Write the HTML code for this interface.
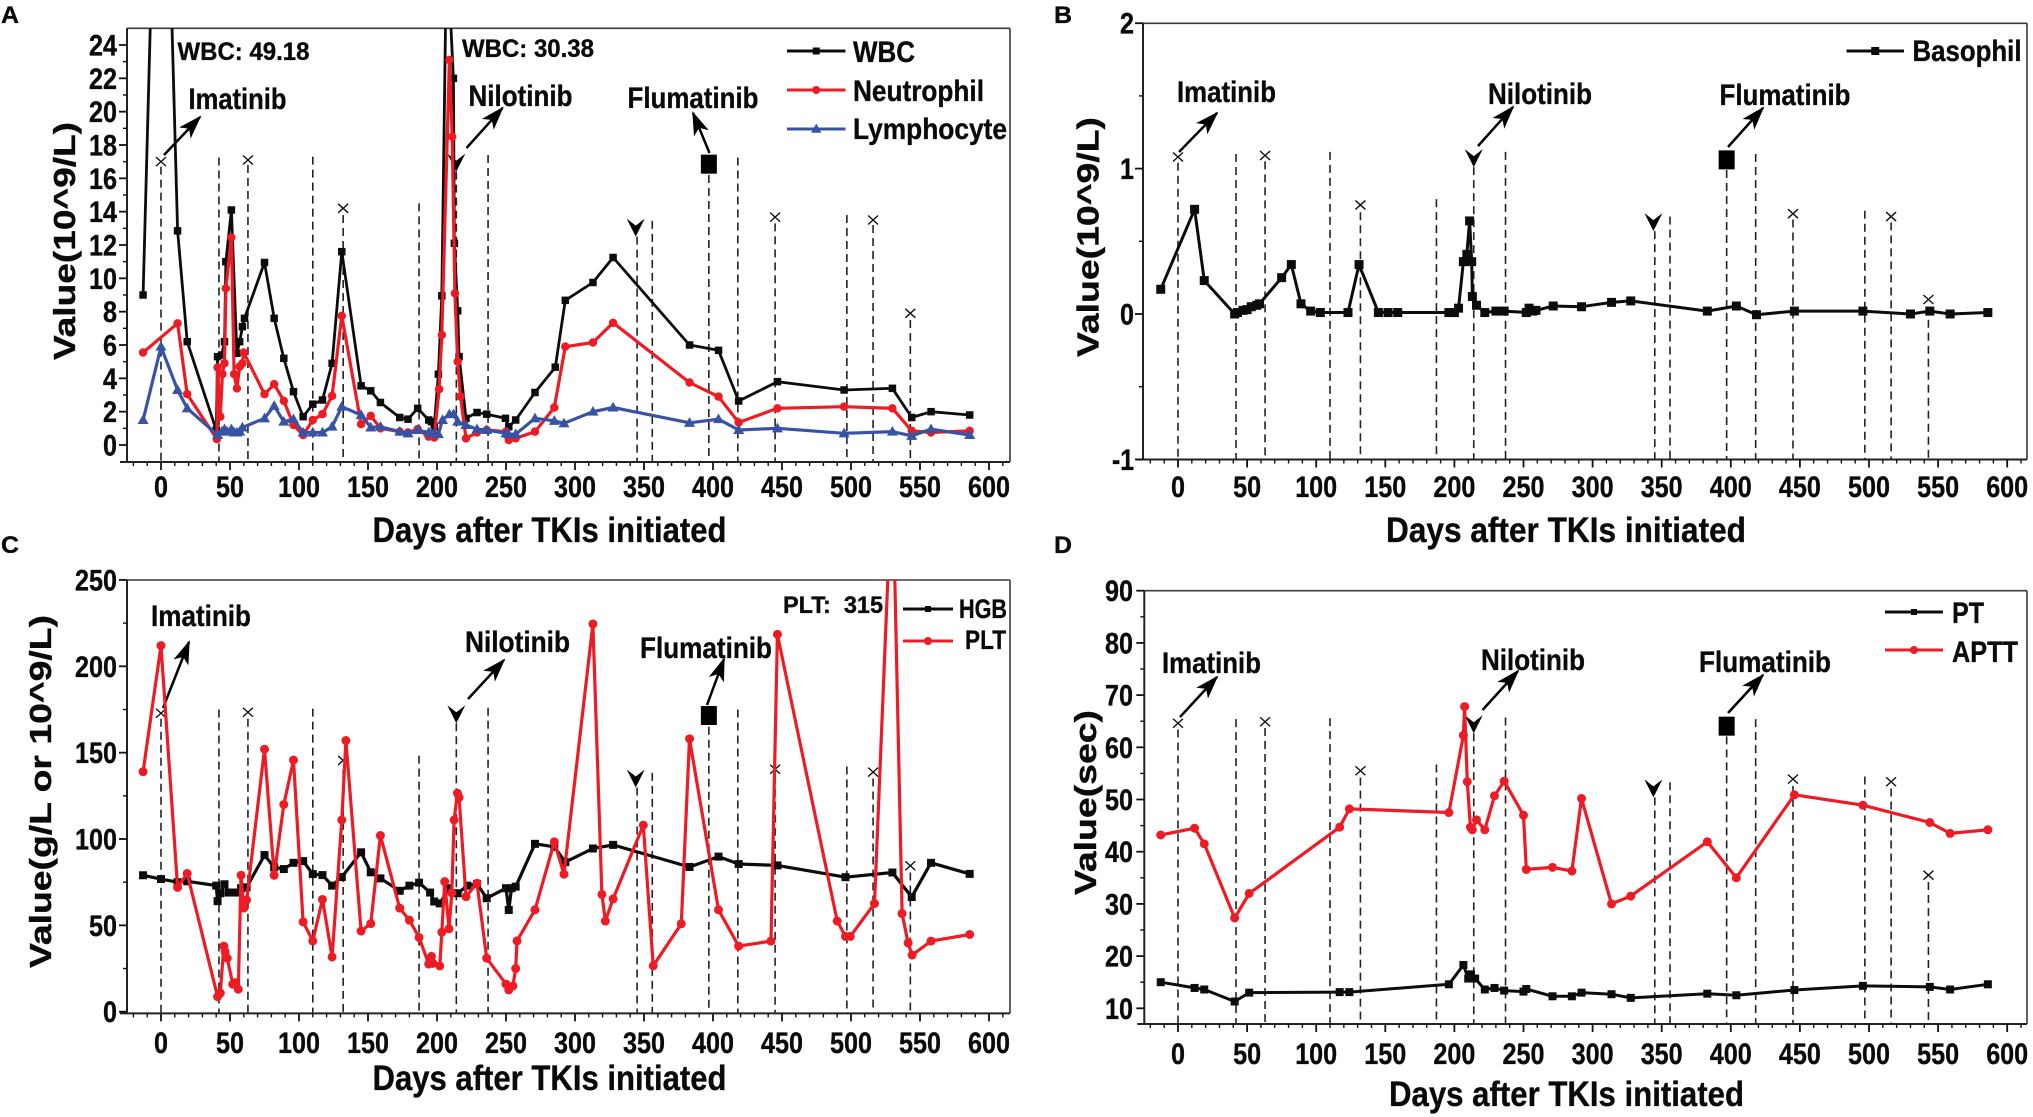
<!DOCTYPE html>
<html lang="en">
<head>
<meta charset="utf-8">
<title>Blood counts after TKI treatment</title>
<style>
html,body{margin:0;padding:0;background:#fff;}
svg{display:block;}
text{font-family:"Liberation Sans",sans-serif;font-weight:bold;fill:#0a0a0a;stroke:#0a0a0a;stroke-width:0.35px;}
</style>
</head>
<body>
<svg id="figure" xmlns="http://www.w3.org/2000/svg" width="2033" height="1117" viewBox="0 0 2033 1117">
<defs>
<marker id="head" markerUnits="userSpaceOnUse" markerWidth="30" markerHeight="20" refX="22" refY="8" orient="auto"><path d="M0,0 L24,8 L0,16 L6,8Z" fill="#000"/></marker>
<clipPath id="clip-a"><rect x="127" y="28" width="883" height="434"/></clipPath>
<clipPath id="clip-b"><rect x="1143" y="23" width="884" height="437"/></clipPath>
<clipPath id="clip-c"><rect x="127" y="580" width="883" height="434"/></clipPath>
<clipPath id="clip-d"><rect x="1144" y="591" width="883" height="433"/></clipPath>
</defs>

<g id="panel-a">
<text x="1" y="23" font-size="24" textLength="18" lengthAdjust="spacingAndGlyphs">A</text>
<text transform="translate(75,360) rotate(-90)" font-size="31" textLength="238" lengthAdjust="spacingAndGlyphs">Value(10^9/L)</text>
<text x="372.5" y="542" font-size="35" textLength="354" lengthAdjust="spacingAndGlyphs">Days after TKIs initiated</text>
<text x="177.5" y="60" font-size="25" textLength="132" lengthAdjust="spacingAndGlyphs">WBC: 49.18</text>
<text x="462" y="57" font-size="25" textLength="132" lengthAdjust="spacingAndGlyphs">WBC: 30.38</text>
<text x="188.5" y="109" font-size="30" textLength="98" lengthAdjust="spacingAndGlyphs">Imatinib</text>
<text x="468.5" y="106" font-size="30" textLength="104" lengthAdjust="spacingAndGlyphs">Nilotinib</text>
<text x="627.5" y="108" font-size="30" textLength="131" lengthAdjust="spacingAndGlyphs">Flumatinib</text>
<line x1="164" y1="155" x2="200" y2="117" stroke="#000" stroke-width="2.5" marker-end="url(#head)"/>
<line x1="466.5" y1="148" x2="502.5" y2="108" stroke="#000" stroke-width="2.5" marker-end="url(#head)"/>
<line x1="709.5" y1="153" x2="693" y2="113" stroke="#000" stroke-width="2.5" marker-end="url(#head)"/>
<text x="853" y="62" font-size="30" textLength="62" lengthAdjust="spacingAndGlyphs">WBC</text>
<text x="853" y="101" font-size="30" textLength="131" lengthAdjust="spacingAndGlyphs">Neutrophil</text>
<text x="853" y="139" font-size="30" textLength="154" lengthAdjust="spacingAndGlyphs">Lymphocyte</text>
</g>

<g id="panel-b">
<text x="1054" y="23" font-size="24" textLength="18" lengthAdjust="spacingAndGlyphs">B</text>
<text transform="translate(1098.5,357) rotate(-90)" font-size="31" textLength="240" lengthAdjust="spacingAndGlyphs">Value(10^9/L)</text>
<text x="1386" y="542" font-size="35" textLength="360" lengthAdjust="spacingAndGlyphs">Days after TKIs initiated</text>
<text x="1177" y="102" font-size="30" textLength="99" lengthAdjust="spacingAndGlyphs">Imatinib</text>
<text x="1488" y="104" font-size="30" textLength="104" lengthAdjust="spacingAndGlyphs">Nilotinib</text>
<text x="1719.5" y="105" font-size="30" textLength="131" lengthAdjust="spacingAndGlyphs">Flumatinib</text>
<line x1="1179" y1="152" x2="1217" y2="113" stroke="#000" stroke-width="2.5" marker-end="url(#head)"/>
<line x1="1478" y1="146" x2="1513" y2="107" stroke="#000" stroke-width="2.5" marker-end="url(#head)"/>
<line x1="1728" y1="147" x2="1763" y2="108" stroke="#000" stroke-width="2.5" marker-end="url(#head)"/>
<text x="1912.5" y="61" font-size="30" textLength="109" lengthAdjust="spacingAndGlyphs">Basophil</text>
</g>

<g id="panel-c">
<text x="1" y="553" font-size="24" textLength="18" lengthAdjust="spacingAndGlyphs">C</text>
<text transform="translate(51,968) rotate(-90)" font-size="31" textLength="353" lengthAdjust="spacingAndGlyphs">Value(g/L or 10^9/L)</text>
<text x="372.5" y="1090" font-size="35" textLength="354" lengthAdjust="spacingAndGlyphs">Days after TKIs initiated</text>
<text x="783" y="613" font-size="24" textLength="100" lengthAdjust="spacingAndGlyphs">PLT:&#160;&#160;315</text>
<text x="151" y="626" font-size="30" textLength="100" lengthAdjust="spacingAndGlyphs">Imatinib</text>
<text x="465" y="652" font-size="30" textLength="105" lengthAdjust="spacingAndGlyphs">Nilotinib</text>
<text x="640" y="658" font-size="30" textLength="132" lengthAdjust="spacingAndGlyphs">Flumatinib</text>
<line x1="163" y1="708" x2="189" y2="642" stroke="#000" stroke-width="2.5" marker-end="url(#head)"/>
<line x1="468" y1="699" x2="504" y2="660" stroke="#000" stroke-width="2.5" marker-end="url(#head)"/>
<line x1="707" y1="705" x2="724" y2="659" stroke="#000" stroke-width="2.5" marker-end="url(#head)"/>
<text x="959" y="618" font-size="27" textLength="48" lengthAdjust="spacingAndGlyphs">HGB</text>
<text x="965" y="649" font-size="27" textLength="41" lengthAdjust="spacingAndGlyphs">PLT</text>
</g>

<g id="panel-d">
<text x="1054" y="553" font-size="24" textLength="18" lengthAdjust="spacingAndGlyphs">D</text>
<text transform="translate(1096,895) rotate(-90)" font-size="31" textLength="185" lengthAdjust="spacingAndGlyphs">Value(sec)</text>
<text x="1389" y="1106" font-size="35" textLength="355" lengthAdjust="spacingAndGlyphs">Days after TKIs initiated</text>
<text x="1162" y="673" font-size="30" textLength="99" lengthAdjust="spacingAndGlyphs">Imatinib</text>
<text x="1481" y="670" font-size="30" textLength="104" lengthAdjust="spacingAndGlyphs">Nilotinib</text>
<text x="1699" y="672" font-size="30" textLength="132" lengthAdjust="spacingAndGlyphs">Flumatinib</text>
<line x1="1180" y1="717" x2="1217" y2="677" stroke="#000" stroke-width="2.5" marker-end="url(#head)"/>
<line x1="1482.5" y1="710" x2="1518" y2="671" stroke="#000" stroke-width="2.5" marker-end="url(#head)"/>
<line x1="1728" y1="713" x2="1763" y2="675" stroke="#000" stroke-width="2.5" marker-end="url(#head)"/>
<text x="1952" y="623" font-size="30" textLength="32" lengthAdjust="spacingAndGlyphs">PT</text>
<text x="1952" y="662" font-size="30" textLength="66" lengthAdjust="spacingAndGlyphs">APTT</text>
</g>
</svg>

<script>
// Shared x-axis tick labels
const xTickLabels = [0,50,100,150,200,250,300,350,400,450,500,550,600];
const xMinorTicks = [-20,-10,10,20,30,40,60,70,80,90,110,120,130,140,160,170,180,190,210,220,230,240,260,270,280,290,310,320,330,340,360,370,380,390,410,420,430,440,460,470,480,490,510,520,530,540,560,570,580,590,610];

// Panel A series
const wbcDays = [-13,0,12,19,40,41,44,46,47,51,55,57,59,60.5,75,82,89,96,103,110,117,124,131,145,152,159,173,179,186,194,196,198,201,203.5,207,211.9,212.6,215,216,221,229,236,249.6,252,257,271,285.7,293,313,327.6,383,404,418.6,446.7,495,530,544,558,586];
const wbcValues = [9.0,49.18,12.85,6.2,0.9,5.3,5.4,6.2,11.0,14.1,5.5,6.2,7.1,7.6,10.95,7.6,5.2,3.2,1.7,2.45,2.7,4.9,11.6,3.55,3.25,2.55,1.65,1.55,2.2,1.5,1.4,1.1,4.25,8.95,30.38,22,12.1,8.05,5.3,1.6,1.95,1.85,1.6,1.1,1.5,3.15,4.67,8.68,9.75,11.25,6.0,5.68,2.64,3.8,3.3,3.4,1.65,2.0,1.8];
const neutrophilDays = [-13,12,19,40.5,41,43,44.5,46,47,51,53,55,57,59,60,75,82,89,96,103,110,117,124,131,145,152,159,173,179,186,194,198,201.5,203.5,209,211,213,215,217,221,229,236,250,252,257,271,285,293,313,327.6,383,404,418.6,446.7,495,530,544,558,586];
const neutrophilValues = [5.55,7.3,3.05,0.35,4.65,1.7,4.25,4.9,9.4,12.45,4.25,3.4,4.7,4.9,5.55,3.05,3.65,2.65,1.2,0.6,1.5,1.85,2.95,7.75,1.25,1.75,1.0,0.8,0.75,0.95,0.5,0.45,3.35,6.6,23.1,18.5,9.1,5.0,2.9,0.4,0.75,0.9,0.8,0.3,0.4,0.8,2.25,5.9,6.15,7.33,3.75,2.9,1.35,2.2,2.3,2.2,0.85,0.75,0.85];
const lymphocyteDays = [-13,0,12,19,41,44,46,48,51,53,55,57,59,75,82,89,96,103,110,117,124,131,145,152,159,173,179,186,194,196,198,201,204,209,212,215,221,229,236,250,252,257,271,285,292,313,327.6,383,404,418.6,446.7,495,530,544,558,586];
const lymphocyteValues = [1.5,5.9,3.3,2.2,0.6,0.8,0.95,0.8,0.95,0.75,0.75,0.8,1.05,1.6,2.35,1.4,1.55,0.75,0.75,0.75,1.1,2.3,1.8,1.05,1.1,0.8,0.7,0.9,0.75,0.7,0.68,0.65,1.5,1.85,1.85,1.4,1.2,0.95,0.9,0.7,0.65,0.65,1.6,1.45,1.3,2.0,2.25,1.33,1.55,0.9,1.0,0.7,0.8,0.55,0.95,0.6];

// Panel B series
const basophilDays = [-12.5,12,19,41,43,47,50,53,57,59,75,82,89,96,103,123,131,145,152,159,196,200,203,206.5,209,211,212.5,213,216,222,230,236,252,254,256.6,259,271.5,292,313.7,327.6,383,404,418.6,446,495.6,530,544,558.7,586];
const basophilValues = [0.17,0.72,0.23,0.0,0.01,0.025,0.03,0.05,0.06,0.07,0.25,0.34,0.07,0.02,0.01,0.01,0.34,0.01,0.01,0.01,0.01,0.01,0.04,0.36,0.41,0.64,0.36,0.12,0.06,0.01,0.02,0.02,0.01,0.04,0.02,0.025,0.055,0.05,0.08,0.09,0.02,0.055,-0.005,0.02,0.02,0,0.02,0,0.01];

// Panel C series
const hgbDays = [-13,0,12,19,40,41,43,46,49,52,55,58,62,75,82,89,96,103,110,117,124,131,145,152,159,173,180,187,195,198,202,209,215,222,229,236,250,252,254,257,271,285,293,313,327.6,383,404,418.6,446.7,496,530,544,558,586];
const hgbValues = [79,76.8,75,75.5,73,64,68.6,73.8,69,69,69,71.5,72,90.7,83.6,82.6,86.2,87.2,79.7,79.1,73,78,92.3,80.7,77.2,70,73,74.7,69,63.8,62.7,71.5,68.6,73,74,65.7,71.5,58.9,71.5,72.4,97.2,95.5,86.6,94.5,96.6,83.8,89.8,85.5,84.7,77.9,80.6,66.4,86.2,79.8];
const pltDays = [-13,0,12,19,41,43,45.5,46.5,48,52,54,56,58,60,62,75,82,89,96,103,110,117,124,131,134,145,152,159,173,180,187,194,196,197,202,203.5,205.6,208.7,210.7,212.4,214.8,216,221,229,236,250,252,255,257,258,271,285,292,313,319.5,322,327.6,349.5,356.7,377,383,404,418.6,442,446.7,490,496,499.5,517,530,537,541.4,544.3,558,586];
const pltValues = [139,212,72,80,8.7,10.8,38,34.7,31,15.9,16.8,13,79,60,64.7,152,79,120,145.7,52,41,65,31.7,111,157,46.7,51,102,60,53,43,27.6,32,28,26.5,46,75.3,48,68.7,111,126.5,124,66.6,74.4,31,16,12.6,14.9,25,41,59,98.3,79.6,224.5,67.9,52.5,65.3,108,26.6,50.9,158,59,38,40.9,218.5,52.5,43.6,43.6,62.6,315,56.8,39.8,32.8,40.9,44.7];

// Panel D series
const coagDays = [-12.5,12,19,41,51.5,117,124,196,206.5,207.4,209.3,211.6,213,216,222,229,236,250,252,271,285,292,313.7,327.6,383,404,446,495.6,544,558.7,586];
const apttValues = [43.2,44.5,41.5,27.3,32,44.7,48.2,47.5,62.3,67.8,53.4,44.7,44.2,46.1,44.2,50.7,53.5,47,36.6,37,36.3,50.2,30,31.5,41.9,35,50.9,48.9,45.6,43.5,44.2];
const ptDays = [-12.5,12,19,41,51.5,117,124,196,206.5,210,212,215,222,229,236,250,252,271,285,292,313.7,327.6,383,404,446,495.6,544,558.7,586];
const ptValues = [15,13.9,13.6,11.3,13,13.1,13.1,14.6,18.3,15.7,16.5,15.7,13.6,13.9,13.4,13.2,13.7,12.3,12.3,13,12.7,12,12.8,12.5,13.5,14.3,14.1,13.6,14.6];

// Y tick labels
const yTicksA = [0,2,4,6,8,10,12,14,16,18,20,22,24];
const yMinorA = [1,3,5,7,9,11,13,15,17,19,21,23];
const yTicksB = [-1,0,1,2];
const yMinorB = [-0.5,0.5,1.5];
const yTicksC = [0,50,100,150,200,250];
const yMinorC = [25,75,125,175,225];
const yTicksD = [10,20,30,40,50,60,70,80,90];
const yMinorD = [15,25,35,45,55,65,75,85];

// Treatment annotations: days and the value at which each dashed guide starts
const dashDays = [0,42,63,110,132,187,214,237,345,356,397,418,445,497,516,543];
const dashTopA = [16.7,17.25,16.8,17.3,13.8,14.5,16.4,17.4,12.5,13.45,16.2,17.25,13.3,13.8,13.2,7.5];
const dashTopB = [1.04,1.10,1.05,1.115,0.70,0.79,1.01,1.115,0.57,0.67,0.99,1.10,0.65,0.71,0.63,0.05];
const dashTopC = [169.6,175,169.6,175.5,140,148.3,167,176,129.8,138.3,165,175,136.6,142,135,80.6];
const dashTopD = [63.4,65.4,63.7,65.6,54.2,56.7,62.7,65.7,50.4,53.3,62.1,65.4,52.6,54.4,52.1,34.2];
const crossDays = [0,63,132,445,516,543];
const crossA = [17.0,17.1,14.2,13.67,13.5,7.9];
const crossB = [1.08,1.09,0.75,0.69,0.67,0.10];
const crossC = [172.8,173.4,145.5,140.4,138.7,84.5];
const crossD = [64.6,64.9,55.5,53.9,53.4,35.5];
const veeDays = [214,344];
const veeTipA = [16.4,12.5];
const veeTipB = [1.01,0.57];
const veeTipC = [167,129.8];
const veeTipD = [62.7,50.4];
const squareDay = 397;
const squareCenterA = 16.85;
const squareCenterB = 1.06;
const squareCenterC = 171.5;
const squareCenterD = 64.05;

const NS = 'http://www.w3.org/2000/svg';
const BLACK = '#0c0c0c', RED = '#ed1c24', BLUE = '#3953a4';

function make(parent, tag, attrs) {
  const el = document.createElementNS(NS, tag);
  for (const k in attrs) el.setAttribute(k, attrs[k]);
  parent.appendChild(el);
  return el;
}

function makeScales(x0, kx, v0, y0, ky) {
  return {
    x: function (d) { return x0 + d * kx; },
    y: function (v) { return y0 - (v - v0) * ky; }
  };
}

function labelWidth(s) {
  const t = String(s);
  return t.charAt(0) === '-' ? 14 * (t.length - 1) + 8 : 14 * t.length;
}

function drawAxes(p) {
  const g = p.root;
  const frame = make(g, 'g', {});
  
  
  const top = make(frame, 'line', {x1: p.left, x2: p.right, y1: p.top, y2: p.top, stroke: '#3a3a3a', 'stroke-width': 1.6});
  
  
  const right = make(frame, 'line', {x1: p.right, x2: p.right, y1: p.top, y2: p.bottom, stroke: '#3a3a3a', 'stroke-width': 1.6});
  
  
  const left = make(frame, 'line', {x1: p.left, x2: p.left, y1: p.top, y2: p.bottom, stroke: '#222', 'stroke-width': 2});
  
  
  const bottom = make(frame, 'line', {x1: p.left - 7, x2: p.right, y1: p.bottom, y2: p.bottom, stroke: '#222', 'stroke-width': 2});
  
  
  xTickLabels.forEach(function (d) {
    const x = p.sx(d);
    const tick = make(frame, 'line', {x1: x, x2: x, y1: p.bottom, y2: p.bottom + 8, stroke: '#111', 'stroke-width': 1.8});
    
    
    const t = make(frame, 'text', {x: x, y: p.xLabelY, 'font-size': 30, 'text-anchor': 'middle', textLength: labelWidth(d), lengthAdjust: 'spacingAndGlyphs'});
    
    
    t.textContent = d;
  });
  xMinorTicks.forEach(function (d) {
    const x = p.sx(d);
    const tick = make(frame, 'line', {x1: x, x2: x, y1: p.bottom, y2: p.bottom + 4, stroke: '#111', 'stroke-width': 1.4});
    
    
  });
  p.yTicks.forEach(function (v) {
    const y = p.sy(v);
    const tick = make(frame, 'line', {x1: p.left - 8, x2: p.left, y1: y, y2: y, stroke: '#111', 'stroke-width': 1.8});
    
    
    const t = make(frame, 'text', {x: p.yLabelX, y: y + 10.5, 'font-size': 30, 'text-anchor': 'end', textLength: labelWidth(v), lengthAdjust: 'spacingAndGlyphs'});
    
    
    t.textContent = v;
  });
  p.yMinor.forEach(function (v) {
    const y = p.sy(v);
    const tick = make(frame, 'line', {x1: p.left - 4, x2: p.left, y1: y, y2: y, stroke: '#111', 'stroke-width': 1.4});
    
    
  });
}

function drawAnnotations(p) {
  const g = make(p.root, 'g', {});
  
  
  dashDays.forEach(function (d, i) {
    const x = p.sx(d);
    const line = make(g, 'line', {x1: x, x2: x, y1: p.sy(p.dashTop[i]), y2: p.bottom - 1, stroke: '#222', 'stroke-width': 1.6, 'stroke-dasharray': '8 5'});
    
    
  });
  crossDays.forEach(function (d, i) {
    const x = p.sx(d), y = p.sy(p.cross[i]);
    const mark = make(g, 'path', {d: 'M' + (x - 5) + ',' + (y - 4.5) + 'L' + (x + 5) + ',' + (y + 4.5) + 'M' + (x + 5) + ',' + (y - 4.5) + 'L' + (x - 5) + ',' + (y + 4.5), stroke: '#111', 'stroke-width': 1.4, fill: 'none'});
    
    
  });
  veeDays.forEach(function (d, i) {
    const x = p.sx(d), y = p.sy(p.vee[i]);
    const mark = make(g, 'path', {d: 'M' + (x - 9) + ',' + (y - 18) + 'L' + x + ',' + y + 'L' + (x + 9) + ',' + (y - 18) + 'L' + x + ',' + (y - 11) + 'Z', fill: '#000'});
    
    
  });
  const sq = make(g, 'rect', {x: p.sx(squareDay) - 8, y: p.sy(p.square) - 9.5, width: 16, height: 19, fill: '#000'});
  
  
}

function marker(parent, kind, x, y, color, size) {
  let el;
  if (kind === 'square') {
    el = make(parent, 'rect', {x: x - size / 2, y: y - size / 2, width: size, height: size, fill: color});
  } else if (kind === 'circle') {
    el = make(parent, 'circle', {cx: x, cy: y, r: size / 2, fill: color});
  } else {
    el = make(parent, 'path', {d: 'M' + x + ',' + (y - size * 0.6) + 'L' + (x + size * 0.58) + ',' + (y + size * 0.42) + 'L' + (x - size * 0.58) + ',' + (y + size * 0.42) + 'Z', fill: color});
  }
  return el;
}

function drawSeries(p, name, days, values, color, kind, lineW, size) {
  const g = make(p.root, 'g', {'clip-path': 'url(#' + p.clip + ')'});
  
  
  const pts = days.map(function (d, i) { return p.sx(d).toFixed(1) + ',' + p.sy(values[i]).toFixed(1); }).join(' ');
  const line = make(g, 'polyline', {points: pts, fill: 'none', stroke: color, 'stroke-width': lineW, 'stroke-linejoin': 'round'});
  
  
  days.forEach(function (d, i) {
    const m = marker(g, kind, p.sx(d), p.sy(values[i]), color, size);
    
    
  });
}

function legendKey(p, name, x1, x2, y, color, kind, size) {
  const g = make(p.root, 'g', {});
  
  
  const l = make(g, 'line', {x1: x1, x2: x2, y1: y, y2: y, stroke: color, 'stroke-width': 3});
  
  
  const m = marker(g, kind, (x1 + x2) / 2, y, color, size);
  
  
}

function panel(id, geom, extra) {
  const s = makeScales(geom.x0, geom.kx, geom.v0, geom.y0, geom.ky);
  const p = Object.assign({root: document.getElementById(id), sx: s.x, sy: s.y}, geom, extra);
  drawAxes(p);
  drawAnnotations(p);
  return p;
}

const pA = panel('panel-a',
  {x0: 161, kx: 1.38, v0: 0, y0: 445, ky: 16.667, left: 127, right: 1010, top: 28.3, bottom: 462, xLabelY: 497, yLabelX: 117, clip: 'clip-a'},
  {yTicks: yTicksA, yMinor: yMinorA, dashTop: dashTopA, cross: crossA, vee: veeTipA, square: squareCenterA});
drawSeries(pA, 'wbc', wbcDays, wbcValues, BLACK, 'square', 2.8, 7.5);
drawSeries(pA, 'neutrophil', neutrophilDays, neutrophilValues, RED, 'circle', 3.2, 8.5);
drawSeries(pA, 'lymphocyte', lymphocyteDays, lymphocyteValues, BLUE, 'triangle', 3.2, 9.5);
legendKey(pA, 'wbc', 787, 845.5, 51, BLACK, 'square', 7);
legendKey(pA, 'neutrophil', 787, 845.5, 90, RED, 'circle', 8);
legendKey(pA, 'lymphocyte', 787, 845.5, 129, BLUE, 'triangle', 9);

const pB = panel('panel-b',
  {x0: 1178, kx: 1.382, v0: 0, y0: 314, ky: 145.4, left: 1143, right: 2027, top: 23.3, bottom: 459.5, xLabelY: 497, yLabelX: 1134, clip: 'clip-b'},
  {yTicks: yTicksB, yMinor: yMinorB, dashTop: dashTopB, cross: crossB, vee: veeTipB, square: squareCenterB});
drawSeries(pB, 'basophil', basophilDays, basophilValues, BLACK, 'square', 3, 9);
legendKey(pB, 'basophil', 1846.5, 1904, 51, BLACK, 'square', 8);

const pC = panel('panel-c',
  {x0: 161, kx: 1.38, v0: 0, y0: 1011.7, ky: 1.727, left: 127, right: 1010, top: 580, bottom: 1013.4, xLabelY: 1053, yLabelX: 117, clip: 'clip-c'},
  {yTicks: yTicksC, yMinor: yMinorC, dashTop: dashTopC, cross: crossC, vee: veeTipC, square: squareCenterC});
drawSeries(pC, 'hgb', hgbDays, hgbValues, BLACK, 'square', 3.2, 8);
drawSeries(pC, 'plt', pltDays, pltValues, RED, 'circle', 3.2, 9);
legendKey(pC, 'hgb', 903, 953, 609, BLACK, 'square', 6);
legendKey(pC, 'plt', 903, 953, 641, RED, 'circle', 8);

const pD = panel('panel-d',
  {x0: 1178, kx: 1.382, v0: 10, y0: 1008.3, ky: 5.22, left: 1144.3, right: 2027, top: 590.7, bottom: 1024, xLabelY: 1064, yLabelX: 1133, clip: 'clip-d'},
  {yTicks: yTicksD, yMinor: yMinorD, dashTop: dashTopD, cross: crossD, vee: veeTipD, square: squareCenterD});
drawSeries(pD, 'pt', ptDays, ptValues, BLACK, 'square', 3, 8);
drawSeries(pD, 'aptt', coagDays, apttValues, RED, 'circle', 3.2, 9);
legendKey(pD, 'pt', 1885, 1943, 612, BLACK, 'square', 6);
legendKey(pD, 'aptt', 1885, 1943, 650, RED, 'circle', 8);
</script>
</body>
</html>
